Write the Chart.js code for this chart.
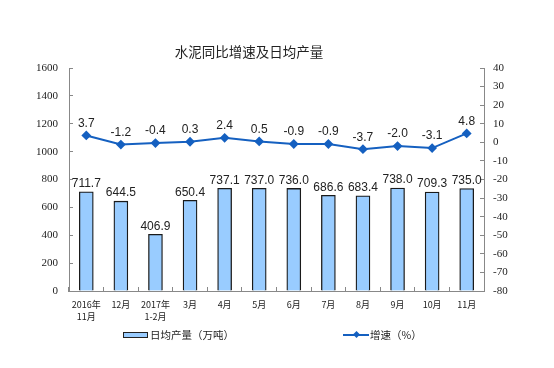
<!DOCTYPE html>
<html>
<head>
<meta charset="utf-8">
<script src="https://cdn.jsdelivr.net/npm/chart.js@4.4.0/dist/chart.umd.min.js"></script>
<style>
  html, body { margin: 0; padding: 0; background: #fff; }
  #wrap { position: relative; width: 554px; height: 368px; font-family: "Noto Sans CJK SC", sans-serif; color: #222; }
  #title { position: absolute; left: 0; width: 498px; top: 42px; text-align: center; font-size: 13.5px; line-height: 18px; }
  .leg { position: absolute; top: 327px; font-size: 10.5px; line-height: 16px; display: flex; align-items: center; }
  .box { width: 23px; height: 4px; background: #99ccff; border: 1px solid #222; margin-right: 2px; }
  .ln { position: relative; width: 26px; height: 2px; background: #1560c0; margin-right: 1px; }
  .ln i { position: absolute; left: 11px; top: -2px; width: 5px; height: 5px; background: #1560c0; transform: rotate(45deg); }
</style>
</head>
<body>
<div id="wrap">
  <div id="title">水泥同比增速及日均产量</div>
  <canvas id="c" width="554" height="368"></canvas>
  <div class="leg" style="left:123px;"><span class="box"></span>日均产量（万吨）</div>
  <div class="leg" style="left:343px;"><span class="ln"><i></i></span>增速（%）</div>
</div>
<script>
const categories = [['2016年', '11月'], '12月', ['2017年', '1-2月'], '3月', '4月', '5月', '6月', '7月', '8月', '9月', '10月', '11月'];
const dailyOutput = [711.7, 644.5, 406.9, 650.4, 737.1, 737.0, 736.0, 686.6, 683.4, 738.0, 709.3, 735.0];
const growthRate = [3.7, -1.2, -0.4, 0.3, 2.4, 0.5, -0.9, -0.9, -3.7, -2.0, -3.1, 4.8];

// 数值标签
const valueLabels = {
    id: 'valueLabels',
    afterDatasetsDraw(chart) {
        const ctx = chart.ctx;
        ctx.save();
        ctx.font = '12px "Liberation Sans", Arial, sans-serif';
        ctx.fillStyle = '#222';
        ctx.textAlign = 'center';
        ctx.textBaseline = 'bottom';
        chart.getDatasetMeta(0).data.forEach((el, i) => {
            ctx.fillText(dailyOutput[i].toFixed(1), el.x, el.y - 2);
        });
        chart.getDatasetMeta(1).data.forEach((el, i) => {
            ctx.fillText(growthRate[i].toFixed(1), el.x, el.y - 6);
        });
        ctx.restore();
    }
};

const axisFont = { family: 'Liberation Serif', size: 11 };

new Chart(document.getElementById('c'), {
    data: {
        labels: categories,
        datasets: [{
            type: 'bar',
            label: '日均产量（万吨）',
            data: dailyOutput,
            yAxisID: 'y',
            backgroundColor: '#99ccff',
            borderColor: '#1a1a1a',
            borderWidth: 1.3,
            barThickness: 14,
            order: 2,
        }, {
            type: 'line',
            label: '增速（%）',
            data: growthRate,
            yAxisID: 'y1',
            borderColor: '#1560c0',
            backgroundColor: '#1560c0',
            borderWidth: 2,
            pointStyle: 'rectRot',
            pointRadius: 3.5,
            tension: 0,
            order: 1,
        }]
    },
    options: {
        responsive: false,
        animation: false,
        layout: { padding: { top: 68, left: 0, right: 0, bottom: 0 } },
        plugins: {
            legend: { display: false },
            title: { display: false },
            tooltip: { enabled: false }
        },
        scales: {
            x: {
                grid: { display: true, offset: true, drawOnChartArea: false, tickLength: -4, color: '#888' },
                border: { color: '#888' },
                ticks: {
                    autoSkip: false, maxRotation: 0, padding: 12, color: '#222',
                    font: { family: '"Noto Sans CJK SC", sans-serif', size: 9, lineHeight: 1.3 }
                },
                afterFit: (s) => { s.height = 77; }
            },
            y: {
                position: 'left',
                min: 0, max: 1600,
                ticks: { stepSize: 200, color: '#222', font: axisFont, padding: 15, callback: (v) => String(v) },
                grid: { drawOnChartArea: false, tickLength: -4, color: '#888' },
                border: { color: '#888' },
                afterFit: (s) => { s.width = 69; }
            },
            y1: {
                position: 'right',
                min: -80, max: 40,
                ticks: { stepSize: 10, color: '#222', font: axisFont, padding: 13, callback: (v) => String(v) },
                grid: { drawOnChartArea: false, tickLength: -4, color: '#888' },
                border: { color: '#888' },
                afterFit: (s) => { s.width = 70; }
            }
        }
    },
    plugins: [valueLabels]
});
</script>
</body>
</html>
